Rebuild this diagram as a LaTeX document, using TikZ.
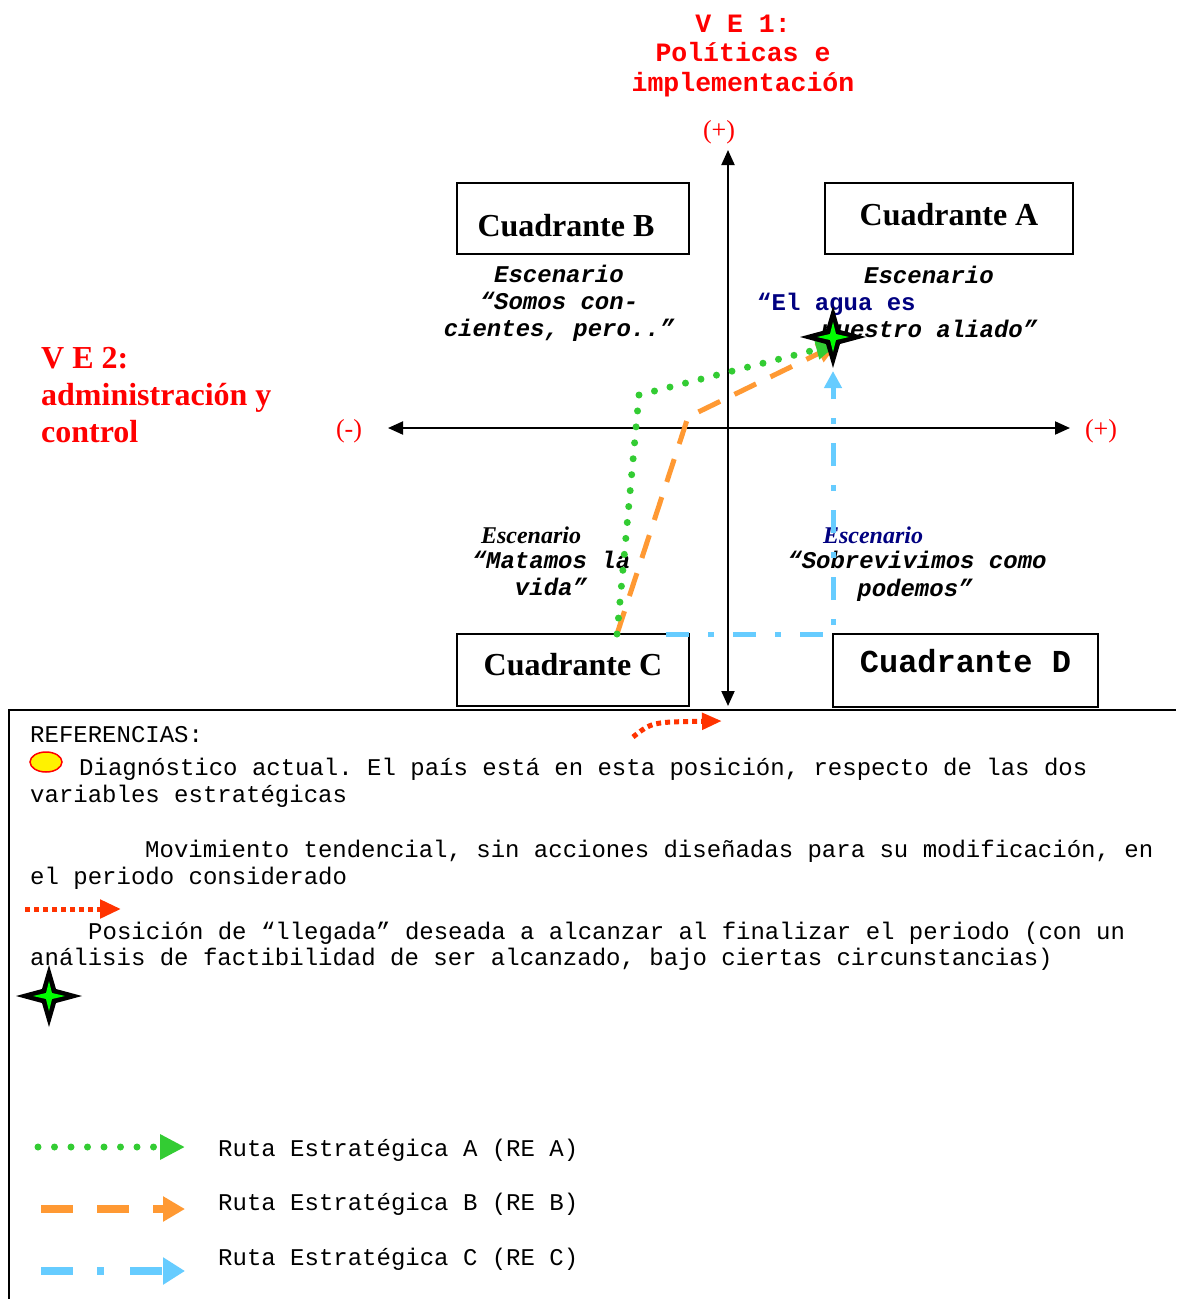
\documentclass[tikz,border=0pt]{standalone}
\usepackage{fontspec}
\setmainfont{Liberation Serif}
\setmonofont{Liberation Mono}
\usetikzlibrary{arrows.meta}
\definecolor{vered}{RGB}{255,0,0}
\definecolor{navyb}{RGB}{0,0,128}
\definecolor{rgreen}{RGB}{51,204,51}
\definecolor{rorange}{RGB}{255,153,51}
\definecolor{rblue}{RGB}{102,204,255}
\definecolor{tred}{RGB}{255,51,0}
\definecolor{sgreen}{RGB}{0,255,0}
\newcommand\myfs[2]{\fontsize{#1}{#2}\selectfont}
\begin{document}
\begin{tikzpicture}[x=1pt,y=-1pt,
  lbl/.style={inner sep=0pt, anchor=base},
  lblw/.style={inner sep=0pt, anchor=base west},
  vetop/.style={lbl, font=\myfs{26.5}{30}\ttfamily\bfseries, text=vered},
  veleft/.style={lblw, font=\myfs{32}{37}\bfseries, text=vered},
  signo/.style={lbl, font=\myfs{26}{30}, text=vered},
  axisline/.style={line width=2pt, {Triangle[length=15pt,width=13pt]}-{Triangle[length=15pt,width=13pt]}},
  quad/.style={draw, line width=1.5pt, inner sep=0pt, font=\myfs{32}{36}\bfseries},
  quadmono/.style={quad, font=\myfs{32}{36}\ttfamily\bfseries},
  scen/.style={lbl, font=\myfs{24}{27}\ttfamily\bfseries\itshape},
  scenup/.style={lblw, font=\myfs{24}{27}\ttfamily\bfseries, text=navyb},
  scentimes/.style={lbl, font=\myfs{24}{27}\bfseries\itshape},
  legtxt/.style={lblw, font=\myfs{24}{27}\ttfamily},
  rutaA/.style={rgreen, line width=7pt, line cap=round, dash pattern=on 0pt off 16pt},
  rutaB/.style={rorange, line width=5pt, dash pattern=on 24pt off 16pt},
  rutaC/.style={rblue, line width=5pt, dash pattern=on 23pt off 19pt on 6pt off 19pt},
  tend/.style={tred, line width=5pt, dash pattern=on 5pt off 4pt},
  pics/estrella/.style={code={
    \fill[black] (33,0) -- (7,-7) -- (0,-31) -- (-7,-7) -- (-33,0) -- (-7,7) -- (0,31) -- (7,7) -- cycle;
    \fill[sgreen] (16,0) -- (3,-3) -- (0,-15) -- (-3,-3) -- (-16,0) -- (-3,3) -- (0,15) -- (3,3) -- cycle;
  }}
]
\useasboundingbox (0,0) rectangle (1176,1299);

% top and left labels
\node[vetop] (ve1a) at (743,32) {V E 1:};
\node[vetop] (ve1b) at (743,61) {Políticas e};
\node[vetop] (ve1c) at (743,91) {implementación};
\node[veleft] (ve2a) at (41,368) {V E 2:};
\node[veleft] (ve2b) at (41,405) {administración y};
\node[veleft] (ve2c) at (41,442) {control};
\node[signo] (pt) at (719,138) {(+)};
\node[signo] (mn) at (349,437) {(-)};
\node[signo] (pr) at (1101,437) {(+)};

% axes
\coordinate (vt) at (728,150);
\coordinate (vb) at (728,706);
\coordinate (hl) at (388,428);
\coordinate (hr) at (1070,428);
\draw[axisline] (vb) -- (vt);
\draw[axisline] (hl) -- (hr);

% quadrant boxes
\node[quad, minimum width=232pt, text height=53pt, text depth=18pt] (qB) at (573,218.5) {Cuadrante B\hspace*{14pt}};
\node[quad, minimum width=248pt, text height=42pt, text depth=29pt] (qA) at (949,218.5) {Cuadrante A};
\node[quad, minimum width=232pt, text height=41pt, text depth=31pt] (qC) at (573,670) {Cuadrante C};
\node[quadmono, minimum width=265pt, text height=38pt, text depth=35pt] (qD) at (965.5,670.5) {Cuadrante D};

% scenarios
\node[scen] (sb1) at (559,282) {Escenario};
\node[scen] (sb2) at (559,309) {“Somos con-};
\node[scen] (sb3) at (559,336) {cientes, pero..”};
\node[scen] (sa1) at (929,283) {Escenario};
\node[scenup] (sa2) at (757,310) {“El agua es};
\node[scen, anchor=base west] (sa3) at (821,337) {nuestro aliado”};
\node[scentimes] (sc1) at (531,543) {Escenario};
\node[scen] (sc2) at (551,568) {“Matamos la};
\node[scen] (sc3) at (551,595) {vida”};
\node[scentimes, text=navyb] (sd1) at (873,543) {Escenario};
\node[scen] (sd2) at (917,568) {“Sobrevivimos como};
\node[scen] (sd3) at (915,596) {podemos”};

% routes
\coordinate (s0) at (617,634);
\coordinate (gA) at (639,395);
\coordinate (oB) at (688,417);
\coordinate (tip) at (838,344);
\coordinate (c0) at (666,634);
\coordinate (cK) at (833,634);
\coordinate (cT) at (833,371);
\draw[rutaB, -{Triangle[length=21pt,width=19pt]}] (s0) -- (oB) -- (tip);
\draw[rutaA, -{Triangle[length=22pt,width=19pt]}] (s0) -- (gA) -- (tip);
\draw[rutaC, -{Triangle[length=17pt,width=17pt]}] (c0) -- (cK) -- (cT);
\pic at (833,337) {estrella};

% tendency arrow near legend
\coordinate (t0) at (633,737);
\coordinate (t1) at (722,721);
\draw[tend, -{Triangle[length=20pt,width=16pt]}] (t0) .. controls (652,722) .. (t1);

% legend frame
\draw[line width=2pt] (9,1299) -- (9,710) -- (1176,710);

\node[legtxt] (ref) at (30,742) {REFERENCIAS:};
\draw[vered, fill=yellow, line width=1.5pt] (46,762) ellipse [x radius=16, y radius=10];
\node[legtxt] (dg1) at (79,775) {Diagnóstico actual. El país está en esta posición, respecto de las dos};
\node[legtxt] (dg2) at (30,802) {variables estratégicas};
\node[legtxt] (mv1) at (145,857) {Movimiento tendencial, sin acciones diseñadas para su modificación, en};
\node[legtxt] (mv2) at (30,884) {el periodo considerado};
\coordinate (lt0) at (25,909);
\coordinate (lt1) at (121,909);
\draw[tend, -{Triangle[length=21pt,width=18pt]}] (lt0) -- (lt1);
\node[legtxt] (ps1) at (88,939) {Posición de “llegada” deseada a alcanzar al finalizar el periodo (con un};
\node[legtxt] (ps2) at (30,965) {análisis de factibilidad de ser alcanzado, bajo ciertas circunstancias)};
\pic at (49,996) {estrella};

\coordinate (la0) at (38,1147);
\coordinate (la1) at (185,1147);
\draw[rutaA, dash pattern=on 0pt off 16.5pt, -{Triangle[length=25pt,width=24pt]}] (la0) -- (la1);
\node[legtxt] (ra) at (218,1156) {Ruta Estratégica A (RE A)};
\coordinate (lb0) at (41,1209);
\coordinate (lb1) at (185,1209);
\draw[rutaB, line width=8pt, dash pattern=on 32pt off 24pt, -{Triangle[length=22pt,width=24pt]}] (lb0) -- (lb1);
\node[legtxt] (rb) at (218,1210) {Ruta Estratégica B (RE B)};
\coordinate (lc0) at (41,1271);
\coordinate (lc1) at (185,1271);
\draw[rutaC, line width=8pt, dash pattern=on 32pt off 24pt on 7pt off 26pt, -{Triangle[length=22pt,width=26pt]}] (lc0) -- (lc1);
\node[legtxt] (rc) at (218,1265) {Ruta Estratégica C (RE C)};
\end{tikzpicture}
\end{document}
